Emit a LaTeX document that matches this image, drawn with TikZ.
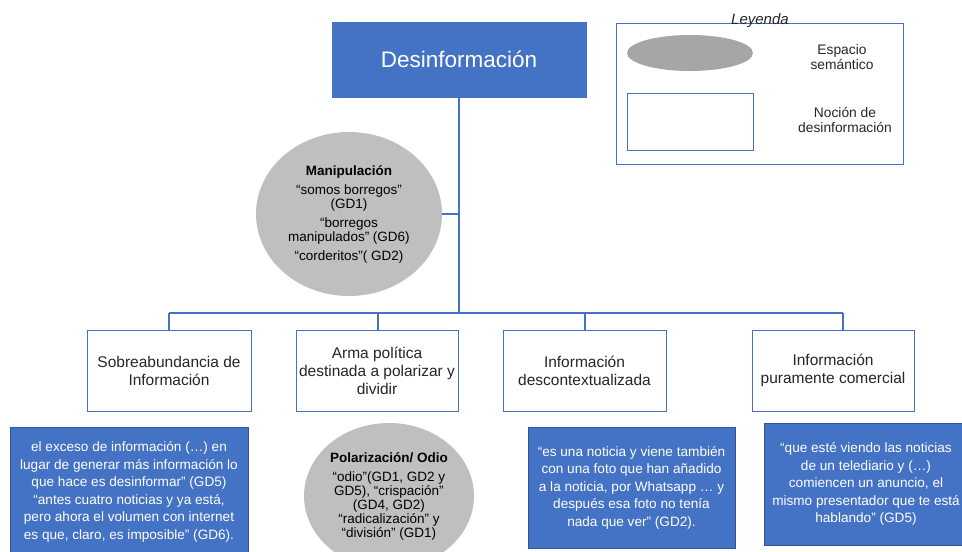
\documentclass[tikz,border=0pt]{standalone}
\usepackage{fontspec}
\setmainfont{Liberation Sans}
\usetikzlibrary{shapes.geometric}
\definecolor{accblue}{HTML}{4472C4}
\definecolor{edgeblue}{HTML}{2F5597}
\definecolor{lightgray}{HTML}{BFBFBF}
\definecolor{leggray}{HTML}{A6A6A6}
\definecolor{txt}{HTML}{262626}
\tikzset{
  topbox/.style={draw=accblue, fill=accblue, text=white, minimum width=254pt, minimum height=75pt, inner sep=0pt, font=\fontsize{22.5}{25}\selectfont},
  catbox/.style={draw=accblue, line width=1pt, fill=white, text=txt, minimum height=81pt, inner sep=0pt, align=center, font=\fontsize{15.5}{18}\selectfont},
  quotebox/.style={draw=edgeblue, line width=0.8pt, fill=accblue, text=white, inner sep=0pt, align=center, font=\fontsize{13.6}{17.5}\selectfont},
  semell/.style={ellipse, fill=lightgray, draw=none, inner sep=0pt, align=center, text=black, font=\fontsize{13.5}{14}\selectfont},
  conn/.style={draw=accblue, line width=1.3pt},
  legtxt/.style={text=txt, align=center, font=\fontsize{13.8}{15.5}\selectfont}
}
\begin{document}
\begin{tikzpicture}[x=1pt,y=-1pt]
\useasboundingbox (0,0) rectangle (962,552);
\fill[white] (0,0) rectangle (962,552);

% top node
\node[topbox] (des) at (459,59.5) {Desinformación};

% category boxes
\node[catbox, minimum width=164pt] (b1) at (169,370.5) {Sobreabundancia de\\Información};
\node[catbox, minimum width=162pt] (b2) at (377,370.5) {Arma política\\destinada a polarizar y\\dividir};
\node[catbox, minimum width=163pt] (b3) at (584.5,370.5) {Información\\descontextualizada};
\node[catbox, minimum width=162pt] (b4) at (833,370.5) {Información\\puramente comercial};

% semantic space ellipse (Manipulación)
\node[semell, minimum width=186pt, minimum height=164pt] (manip) at (349,214)
  {\textbf{Manipulación}\\[5pt]“somos borregos”\\(GD1)\\[5pt]“borregos\\manipulados” (GD6)\\[5pt]“corderitos”( GD2)};

% connectors
\coordinate (trunk) at (459,313);
\coordinate (mj) at (459,214);
\coordinate (h1) at (169,313);
\coordinate (h2) at (378,313);
\coordinate (h3) at (585,313);
\coordinate (h4) at (843,313);
\coordinate (t2) at (378,330);
\coordinate (t3) at (585,330);
\coordinate (t4) at (843,330);
\draw[conn] (des.south) -- (trunk);
\draw[conn] (manip.east) -- (mj);
\draw[conn] (h1) -- (h4);
\draw[conn] (h1) -- (b1.north);
\draw[conn] (h2) -- (t2);
\draw[conn] (h3) -- (t3);
\draw[conn] (h4) -- (t4);

% quote boxes
\node[quotebox, minimum width=238pt, minimum height=130pt] (q1) at (129,492)
  {el exceso de información (…) en\\lugar de generar más información lo\\que hace es desinformar” (GD5)\\“antes cuatro noticias y ya está,\\pero ahora el volumen con internet\\es que, claro, es imposible” (GD6).};
\node[semell, minimum width=170pt, minimum height=146pt] (polar) at (389,496)
  {\textbf{Polarización/ Odio}\\[5pt]“odio”(GD1, GD2 y\\GD5), “crispación”\\(GD4, GD2)\\“radicalización” y\\“división” (GD1)};
\node[quotebox, minimum width=207pt, minimum height=121pt] (q3) at (631.5,487.5)
  {“es una noticia y viene también\\con una foto que han añadido\\a la noticia, por Whatsapp … y\\después esa foto no tenía\\nada que ver” (GD2).};
\node[quotebox, minimum width=204pt, minimum height=122pt] (q4) at (866,484)
  {“que esté viendo las noticias\\de un telediario y (…)\\comiencen un anuncio, el\\mismo presentador que te está\\hablando” (GD5)};

% legend
\node[draw=accblue, line width=0.8pt, minimum width=287pt, minimum height=141pt, inner sep=0pt] (leg) at (759.5,93.5) {};
\node[font=\itshape\fontsize{15}{17}\selectfont, text=txt] (legt) at (760,21) {Leyenda};
\node[ellipse, fill=leggray, minimum width=126pt, minimum height=36pt, inner sep=0pt] (legell) at (690,53) {};
\node[draw=accblue, line width=0.8pt, minimum width=126pt, minimum height=57pt, inner sep=0pt] (legrect) at (690,121.5) {};
\node[legtxt] (legt1) at (842,57) {Espacio\\semántico};
\node[legtxt] (legt2) at (845,120) {Noción de\\desinformación};
\end{tikzpicture}
\end{document}
